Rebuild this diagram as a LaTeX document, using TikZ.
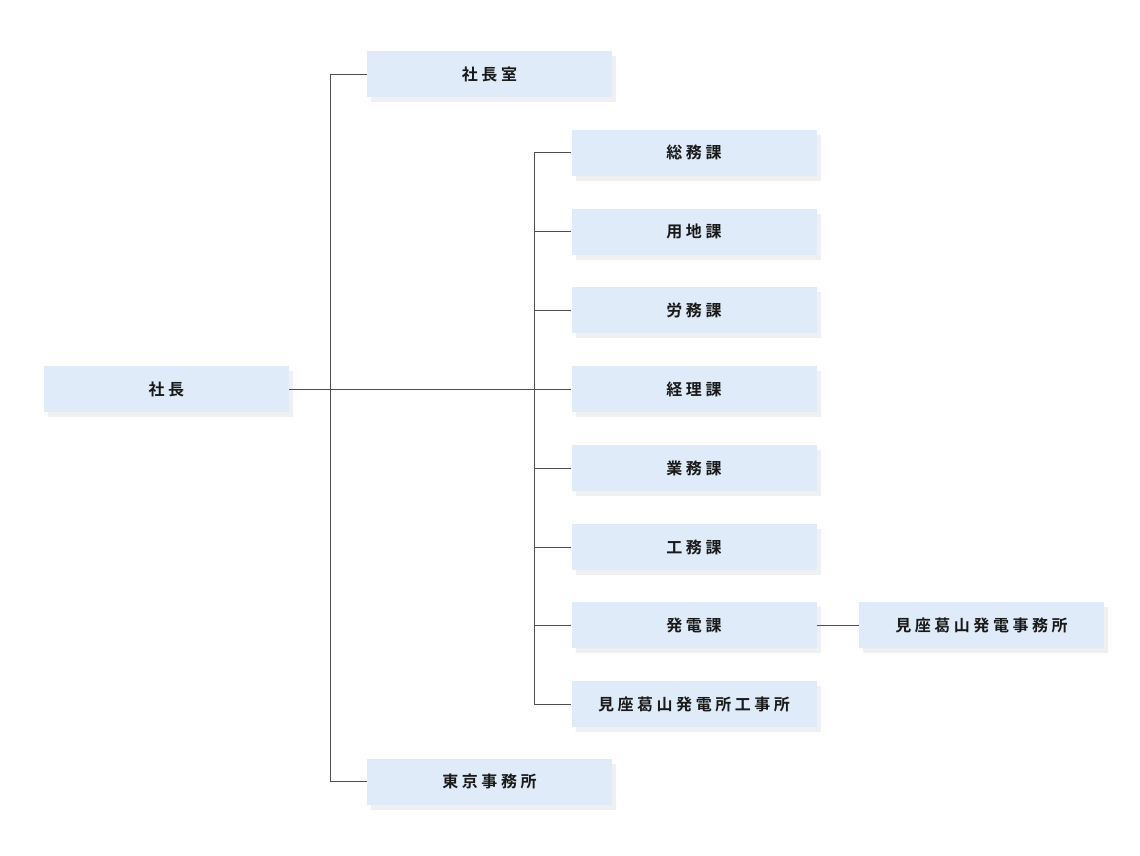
\documentclass[tikz,border=0pt]{standalone}
\usepackage{fontspec}
\newfontfamily\cjk[LetterSpace=22,BoldFont={* Bold}]{Noto Sans CJK JP}
\usetikzlibrary{shadows}
\definecolor{boxfill}{HTML}{DFEBF8}
\definecolor{shadowc}{HTML}{EEF0F2}
\definecolor{linec}{HTML}{505050}
\tikzset{
  unit/.style={fill=boxfill, minimum width=245pt, minimum height=46pt, inner sep=0pt,
    font=\cjk\bfseries\fontsize{16pt}{18pt}\selectfont, text=black!90,
    general shadow={fill=shadowc, shadow xshift=4pt, shadow yshift=-5pt}},
  conn/.style={draw=linec, line width=0.7pt}
}
\begin{document}
\begin{tikzpicture}[x=1pt,y=-1pt]
\useasboundingbox (0,0) rectangle (1140,855);
\node[unit] (shacho) at (166.5,389) {社長};
\node[unit] (shitsu) at (489.5,74) {社長室};
\node[unit] (tokyo) at (489.5,781.5) {東京事務所};
\node[unit] (somu) at (694,152.5) {総務課};
\node[unit] (yochi) at (694,231.5) {用地課};
\node[unit] (romu) at (694,310) {労務課};
\node[unit] (keiri) at (694,389) {経理課};
\node[unit] (gyomu) at (694,468) {業務課};
\node[unit] (komu) at (694,547) {工務課};
\node[unit] (hatsu) at (694,625) {発電課};
\node[unit] (koji) at (694,704) {見座葛山発電所工事所};
\node[unit] (mikura) at (981.5,625) {見座葛山発電事務所};
\draw[conn] (shacho.east) -- (keiri.west);
\draw[conn] (shitsu.west) -- ++(-36,0) |- (tokyo.west);
\draw[conn] (somu.west) -- ++(-37,0) |- (koji.west);
\foreach \n in {yochi,romu,gyomu,komu,hatsu}{\draw[conn] (\n.west) -- ++(-37,0);}
\draw[conn] (hatsu.east) -- (mikura.west);
\end{tikzpicture}
\end{document}
